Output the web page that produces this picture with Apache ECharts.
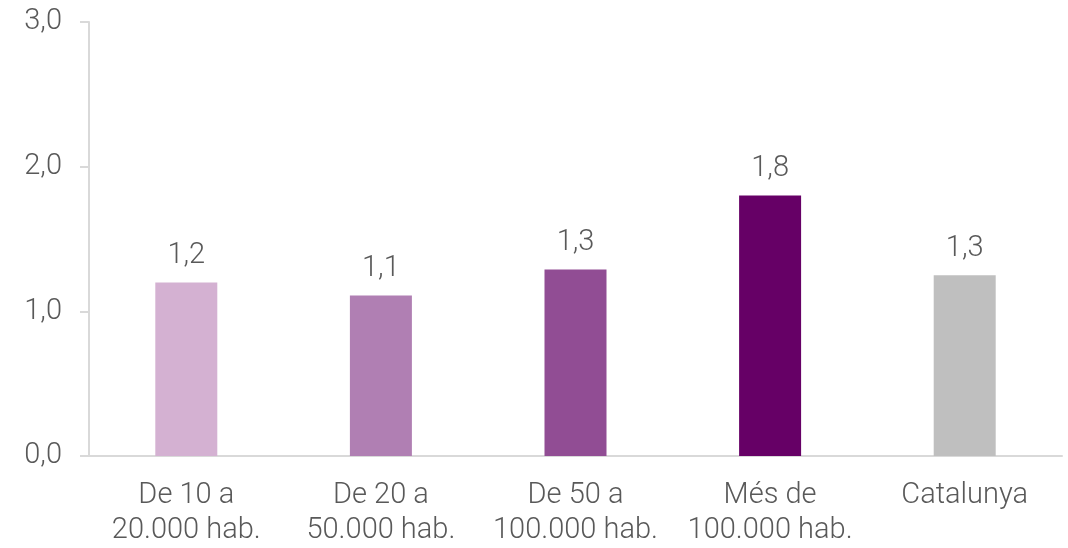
<!DOCTYPE html>
<html>
<head>
<meta charset="utf-8">
<script src="https://cdn.jsdelivr.net/npm/echarts@6/dist/echarts.min.js"></script>
<style>
html,body{margin:0;padding:0;background:#fff;}
#chart{width:1068px;height:548px;}
</style>
</head>
<body>
<div id="chart"></div>
<script>
// categories and values
var categories = ['De 10 a\n20.000 hab.', 'De 20 a\n50.000 hab.', 'De 50 a\n100.000 hab.', 'Més de\n100.000 hab.', 'Catalunya'];
var values = [1.2, 1.11, 1.29, 1.8, 1.25];
var barColors = ['#D4B1D2', '#B07FB3', '#914D94', '#660066', '#BFBFBF'];

var font = 'Roboto';
var textColor = '#595959';

var chart = echarts.init(document.getElementById('chart'));
var option = {
	animation: false,
	grid: {
		left: 89,
		right: 6,
		top: 22,
		bottom: 87,
		containLabel: false
	},
	xAxis: {
		type: 'category',
		data: categories,
		axisLine: { lineStyle: { color: '#D9D9D9', width: 2 } },
		axisTick: { show: false },
		axisLabel: {
			color: textColor,
			fontFamily: font,
			fontWeight: 300,
			fontSize: 29,
			lineHeight: 35,
			margin: 22,
			interval: 0
		}
	},
	yAxis: {
		type: 'value',
		min: 0,
		max: 3,
		interval: 1,
		axisLine: { show: true, lineStyle: { color: '#D9D9D9', width: 2 } },
		axisTick: { show: true, length: 9, lineStyle: { color: '#D9D9D9', width: 2 } },
		splitLine: { show: false },
		axisLabel: {
			color: textColor,
			fontFamily: font,
			fontWeight: 300,
			fontSize: 29,
			margin: 27,
			formatter: function(v){ return v.toFixed(1).replace('.', ','); }
		}
	},
	series: [{
		type: 'bar',
		barWidth: 62,
		data: values.map(function(v, i){
			return { value: v, itemStyle: { color: barColors[i] } };
		}),
		label: {
			show: true,
			position: 'top',
			distance: 12,
			color: textColor,
			fontFamily: font,
			fontWeight: 300,
			fontSize: 29,
			formatter: function(p){ return p.value.toFixed(1).replace('.', ','); }
		}
	}]
};
chart.setOption(option);
</script>
</body>
</html>
